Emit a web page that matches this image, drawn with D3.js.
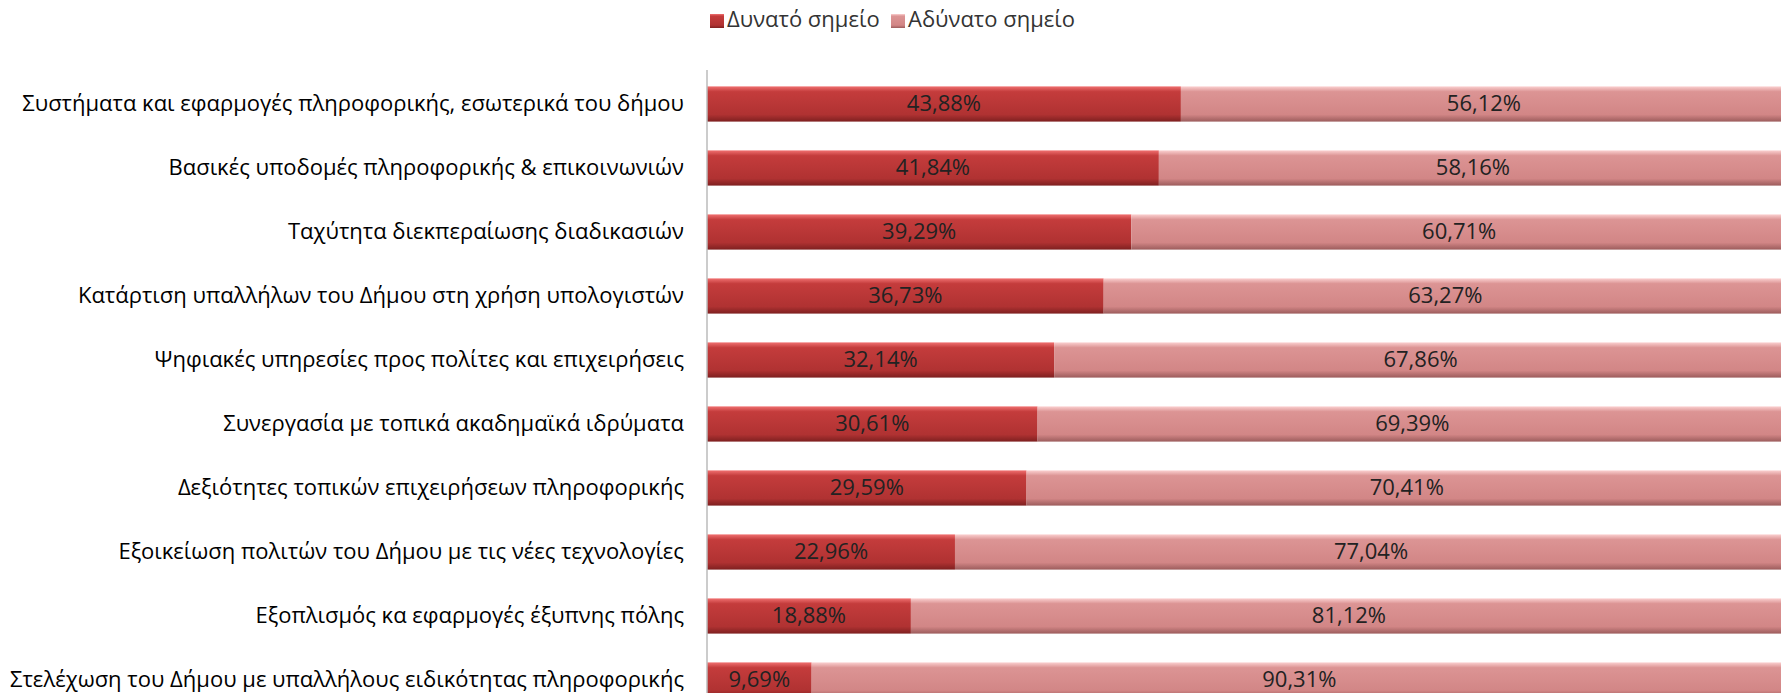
<!DOCTYPE html>
<html>
<head>
<meta charset="utf-8">
<script src="https://cdn.jsdelivr.net/npm/d3@7"></script>
<style>
  body { margin: 0; background: #fff; }
  svg text { font-family: "Open Sans", "Noto Sans", sans-serif; }
</style>
</head>
<body>
<div class="chart"></div>
<script>
const categories = [
  "Συστήματα και εφαρμογές πληροφορικής, εσωτερικά του δήμου",
  "Βασικές υποδομές πληροφορικής & επικοινωνιών",
  "Ταχύτητα διεκπεραίωσης διαδικασιών",
  "Κατάρτιση υπαλλήλων του Δήμου στη χρήση υπολογιστών",
  "Ψηφιακές υπηρεσίες προς πολίτες και επιχειρήσεις",
  "Συνεργασία με τοπικά ακαδημαϊκά ιδρύματα",
  "Δεξιότητες τοπικών επιχειρήσεων πληροφορικής",
  "Εξοικείωση πολιτών του Δήμου με τις νέες τεχνολογίες",
  "Εξοπλισμός κα εφαρμογές έξυπνης πόλης",
  "Στελέχωση του Δήμου με υπαλλήλους ειδικότητας πληροφορικής"
];
const strong = [43.88, 41.84, 39.29, 36.73, 32.14, 30.61, 29.59, 22.96, 18.88, 9.69];
const weak   = [56.12, 58.16, 60.71, 63.27, 67.86, 69.39, 70.41, 77.04, 81.12, 90.31];
const seriesNames = ["Δυνατό σημείο", "Αδύνατο σημείο"];

const width = 1781, height = 693;
const svg = d3.select('.chart').append('svg')
    .attr('width', width)
    .attr('height', height);

const defs = svg.append('defs');
function grad(id, stops) {
  const g = defs.append('linearGradient').attr('id', id)
      .attr('x1', 0).attr('y1', 0).attr('x2', 0).attr('y2', 1);
  stops.forEach(s => g.append('stop').attr('offset', s[0]).attr('stop-color', s[1]));
}
grad('gDark', [[0, '#f07070'], [0.15, '#c43c3c'], [0.8, '#b03232'], [1, '#7e2020']]);
grad('gLight', [[0, '#fbd0d0'], [0.15, '#dc9494'], [0.8, '#d28686'], [1, '#9c5c5c']]);

const xScale = d3.scaleLinear().domain([0, 100]).range([707, 1787]);
const yScale = d3.scaleBand().domain(categories)
    .range([72, 712]).paddingInner(0.45).paddingOuter(0.225);

const fmt = v => d3.format('.2f')(v).replace('.', ',') + '%';

const rows = categories.map((c, i) => ({cat: c, a: strong[i], b: weak[i]}));

const g = svg.selectAll('.row').data(rows).enter().append('g').attr('class', 'row');

g.append('rect')
    .attr('x', xScale(0))
    .attr('y', d => yScale(d.cat))
    .attr('width', d => xScale(d.a) - xScale(0))
    .attr('height', yScale.bandwidth())
    .attr('fill', 'url(#gDark)');

g.append('rect')
    .attr('x', d => xScale(d.a))
    .attr('y', d => yScale(d.cat))
    .attr('width', d => xScale(d.a + d.b) - xScale(d.a))
    .attr('height', yScale.bandwidth())
    .attr('fill', 'url(#gLight)');

g.append('text')
    .attr('x', d => (xScale(0) + xScale(d.a)) / 2)
    .attr('y', d => yScale(d.cat) + yScale.bandwidth() / 2 + 1)
    .attr('text-anchor', 'middle')
    .attr('dominant-baseline', 'middle')
    .attr('font-size', 22)
    .attr('fill', '#222')
    .text(d => fmt(d.a));

g.append('text')
    .attr('x', d => (xScale(d.a) + xScale(d.a + d.b)) / 2)
    .attr('y', d => yScale(d.cat) + yScale.bandwidth() / 2 + 1)
    .attr('text-anchor', 'middle')
    .attr('dominant-baseline', 'middle')
    .attr('font-size', 22)
    .attr('fill', '#222')
    .text(d => fmt(d.b));

// category axis
const yAxis = d3.axisLeft(yScale).tickSize(0).tickPadding(23);
const ax = svg.append('g')
    .attr('class', 'axis y-axis')
    .attr('transform', `translate(${xScale(0)},0)`)
    .call(yAxis);
ax.select('.domain').remove();
ax.selectAll('text')
    .attr('font-size', 22)
    .attr('fill', '#000')
    .style('font-family', '"Open Sans", sans-serif');
svg.append('line')
    .attr('x1', xScale(0)).attr('x2', xScale(0))
    .attr('y1', 70).attr('y2', height)
    .attr('stroke', '#bbb').attr('stroke-width', 1.5);

// legend
const legendX = [710, 891];
const legend = svg.selectAll('.legend').data(seriesNames).enter().append('g')
    .attr('class', 'legend')
    .attr('transform', (d, i) => `translate(${legendX[i]},21)`);
legend.append('rect')
    .attr('x', 0).attr('y', -7).attr('width', 14).attr('height', 14)
    .attr('fill', (d, i) => i === 0 ? 'url(#gDark)' : 'url(#gLight)');
legend.append('text')
    .attr('x', 17).attr('y', 0)
    .attr('dominant-baseline', 'middle')
    .attr('font-size', 22)
    .attr('fill', '#333')
    .text(d => d);
</script>
</body>
</html>
